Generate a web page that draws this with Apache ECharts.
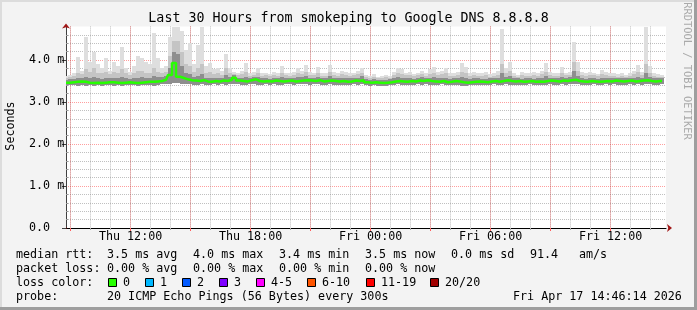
<!DOCTYPE html>
<html><head><meta charset="utf-8">
<script src="https://cdn.jsdelivr.net/npm/echarts@6/dist/echarts.min.js"></script>
<style>html,body{margin:0;padding:0;background:#f3f3f3}#c{width:697px;height:310px}</style>
</head><body><div id="c"></div>
<script>
// time axis: hours since Thu 00:00 (Thu 08:46:14 .. Fri 14:46:14)
const START_HOUR = 8.7706;
const END_HOUR = 38.7706;
const STEP_HOURS = 0.2; // one sample every 12 minutes

// median round-trip time (ms)
const medianRtt = [
 3.46,3.46,3.47,3.48,3.49,3.48,3.46,3.45,3.46,3.45,
 3.46,3.47,3.47,3.46,3.45,3.46,3.47,3.46,3.45,3.46,
 3.47,3.48,3.48,3.49,3.50,3.53,3.64,3.93,3.60,3.57,
 3.54,3.52,3.51,3.50,3.52,3.49,3.48,3.50,3.49,3.51,
 3.50,3.53,3.58,3.51,3.50,3.49,3.52,3.54,3.50,3.49,
 3.50,3.49,3.51,3.50,3.49,3.50,3.51,3.49,3.50,3.51,
 3.52,3.51,3.50,3.52,3.49,3.50,3.51,3.50,3.49,3.50,
 3.48,3.49,3.51,3.50,3.52,3.47,3.46,3.47,3.46,3.45,
 3.46,3.47,3.49,3.50,3.49,3.48,3.50,3.49,3.51,3.50,
 3.52,3.50,3.49,3.48,3.50,3.47,3.48,3.50,3.49,3.47,
 3.46,3.47,3.48,3.49,3.48,3.47,3.49,3.50,3.48,3.50,
 3.52,3.50,3.49,3.50,3.48,3.49,3.50,3.48,3.49,3.48,
 3.50,3.51,3.50,3.49,3.51,3.50,3.52,3.53,3.50,3.49,
 3.48,3.50,3.49,3.48,3.49,3.50,3.49,3.51,3.50,3.49,
 3.50,3.51,3.49,3.50,3.51,3.52,3.50,3.49,3.50,3.50
];
// smoke: lowest ping (ms)
const smokeMin = [
 3.40,3.41,3.40,3.39,3.41,3.38,3.40,3.39,3.41,3.39,
 3.40,3.41,3.39,3.40,3.38,3.40,3.41,3.40,3.39,3.40,
 3.41,3.40,3.39,3.41,3.42,3.43,3.44,3.46,3.45,3.44,
 3.43,3.42,3.41,3.40,3.42,3.41,3.40,3.42,3.41,3.42,
 3.41,3.43,3.44,3.42,3.41,3.40,3.42,3.43,3.41,3.40,
 3.42,3.41,3.42,3.40,3.41,3.42,3.43,3.41,3.42,3.43,
 3.42,3.41,3.42,3.43,3.40,3.41,3.42,3.41,3.40,3.41,
 3.40,3.41,3.42,3.41,3.42,3.40,3.39,3.40,3.39,3.38,
 3.39,3.40,3.41,3.42,3.41,3.40,3.41,3.40,3.42,3.41,
 3.42,3.41,3.40,3.41,3.42,3.40,3.40,3.41,3.40,3.39,
 3.39,3.40,3.41,3.40,3.41,3.40,3.41,3.42,3.40,3.41,
 3.42,3.41,3.40,3.41,3.40,3.41,3.42,3.40,3.41,3.40,
 3.41,3.42,3.41,3.40,3.42,3.41,3.43,3.44,3.42,3.41,
 3.40,3.41,3.42,3.40,3.41,3.42,3.40,3.42,3.41,3.40,
 3.41,3.42,3.41,3.42,3.41,3.43,3.42,3.41,3.41,3.42
];
// smoke: dense core upper edge (ms)
const smokeHi = [
 3.53,3.54,3.55,3.58,3.57,3.60,3.56,3.60,3.56,3.55,
 3.58,3.56,3.58,3.56,3.60,3.56,3.55,3.57,3.58,3.59,
 3.57,3.58,3.62,3.60,3.60,3.62,3.80,4.20,4.15,3.85,
 3.70,3.66,3.60,3.62,3.66,3.58,3.58,3.57,3.57,3.58,
 3.64,3.60,3.64,3.58,3.57,3.60,3.58,3.60,3.60,3.56,
 3.57,3.55,3.58,3.56,3.60,3.57,3.57,3.56,3.60,3.59,
 3.62,3.58,3.57,3.60,3.56,3.56,3.62,3.57,3.56,3.58,
 3.56,3.56,3.58,3.58,3.62,3.54,3.52,3.54,3.52,3.52,
 3.53,3.54,3.57,3.60,3.58,3.56,3.58,3.55,3.58,3.59,
 3.58,3.58,3.60,3.56,3.58,3.57,3.55,3.56,3.56,3.60,
 3.58,3.55,3.56,3.56,3.55,3.55,3.56,3.57,3.56,3.70,
 3.60,3.62,3.56,3.56,3.55,3.56,3.57,3.55,3.56,3.56,
 3.62,3.58,3.56,3.56,3.60,3.57,3.60,3.75,3.62,3.56,
 3.55,3.57,3.56,3.55,3.57,3.57,3.56,3.58,3.56,3.56,
 3.56,3.58,3.57,3.60,3.58,3.70,3.60,3.56,3.56,3.56
];
// smoke: upper middle band edge (ms)
const smokeP90 = [
 3.58,3.60,3.62,3.70,3.66,3.78,3.72,3.80,3.70,3.68,
 3.72,3.66,3.72,3.68,3.78,3.68,3.64,3.70,3.75,3.74,
 3.70,3.68,3.82,3.72,3.68,3.72,4.10,4.45,4.45,4.20,
 3.90,3.85,3.72,3.80,3.90,3.70,3.72,3.66,3.68,3.65,
 3.80,3.68,3.66,3.64,3.66,3.72,3.63,3.65,3.70,3.62,
 3.64,3.61,3.65,3.62,3.70,3.64,3.62,3.65,3.70,3.66,
 3.72,3.65,3.64,3.70,3.63,3.62,3.72,3.65,3.62,3.66,
 3.65,3.62,3.64,3.66,3.70,3.60,3.58,3.60,3.57,3.58,
 3.60,3.58,3.64,3.68,3.67,3.64,3.65,3.61,3.64,3.66,
 3.62,3.67,3.70,3.65,3.66,3.68,3.63,3.62,3.64,3.72,
 3.70,3.63,3.64,3.62,3.63,3.64,3.60,3.63,3.65,3.90,
 3.68,3.75,3.62,3.60,3.64,3.63,3.62,3.65,3.63,3.66,
 3.72,3.65,3.62,3.63,3.70,3.64,3.65,3.95,3.75,3.65,
 3.62,3.65,3.64,3.61,3.67,3.65,3.63,3.62,3.60,3.63,
 3.60,3.62,3.66,3.72,3.65,3.90,3.70,3.63,3.60,3.59
];
// smoke: highest ping (ms)
const smokeMax = [
 3.62,3.65,3.68,4.06,3.75,4.55,3.95,4.20,3.90,3.80,
 4.05,3.75,3.96,3.85,4.32,3.80,3.72,3.85,4.10,4.05,
 3.95,3.90,4.65,4.05,3.80,3.85,4.55,4.78,4.78,4.70,
 4.25,4.40,3.90,4.35,4.78,3.85,3.92,3.78,3.80,3.75,
 4.15,3.80,3.72,3.70,3.75,3.93,3.70,3.72,3.82,3.68,
 3.70,3.66,3.72,3.68,3.85,3.70,3.68,3.72,3.82,3.75,
 3.88,3.72,3.70,3.84,3.70,3.68,3.88,3.72,3.68,3.74,
 3.72,3.68,3.70,3.75,3.82,3.64,3.62,3.66,3.60,3.63,
 3.65,3.62,3.72,3.80,3.78,3.70,3.72,3.66,3.70,3.75,
 3.68,3.78,3.84,3.72,3.75,3.80,3.70,3.68,3.72,3.92,
 3.83,3.70,3.72,3.68,3.70,3.72,3.66,3.70,3.75,4.75,
 3.80,3.95,3.68,3.65,3.72,3.70,3.68,3.72,3.70,3.75,
 3.93,3.72,3.68,3.70,3.83,3.70,3.72,4.43,3.95,3.72,
 3.68,3.72,3.70,3.66,3.76,3.72,3.70,3.68,3.66,3.70,
 3.65,3.68,3.75,3.87,3.72,4.78,3.85,3.70,3.66,3.64
];

const xLabelHours = [12, 18, 24, 30, 36];
const xLabels = ['Thu 12:00', 'Thu 18:00', 'Fri 00:00', 'Fri 06:00', 'Fri 12:00'];
const xMajorHours = [9, 12, 15, 18, 21, 24, 27, 30, 33, 36];
const xMinorHours = [9,10,11,12,13,14,15,16,17,18,19,20,21,22,23,24,25,26,27,28,29,30,31,32,33,34,35,36,37,38];
const yMajor = [0, 1, 2, 3, 4];
const yLabels = ['0.0', '1.0 m', '2.0 m', '3.0 m', '4.0 m'];
const yMinor = [0.2,0.4,0.6,0.8,1.2,1.4,1.6,1.8,2.2,2.4,2.6,2.8,3.2,3.4,3.6,3.8,4.2,4.4,4.6];

const titleText = 'Last 30 Hours from smokeping to Google DNS 8.8.8.8';
const rttStats = ['median rtt:', '3.5 ms avg', '4.0 ms max', '3.4 ms min', '3.5 ms now', '0.0 ms sd', '91.4', 'am/s'];
const lossStats = ['packet loss:', '0.00 % avg', '0.00 % max', '0.00 % min', '0.00 % now'];
const lossLabels = ['0', '1', '2', '3', '4-5', '6-10', '11-19', '20/20'];
const lossColors = ['#26ff00', '#00b8ff', '#0059ff', '#7e00ff', '#ff00ff', '#ff5500', '#ff0000', '#a10000'];
const probeText = ['probe:', '20 ICMP Echo Pings (56 Bytes) every 300s'];
const stampText = 'Fri Apr 17 14:46:14 2026';

// ---- layout ----
const FONT = '"DejaVu Sans Mono", monospace';
const rttX = [16, 107, 193, 279, 365, 451, 530, 579];
const lossX = [16, 107, 193, 279, 365];
const boxX = [108.5, 145.5, 182.5, 219.5, 256.5, 307.5, 366.5, 430.5];
const rowY = [254.5, 268.5, 282.5, 296.5];
const smokeColors = ['#8e8e8e', '#c4c4c4', '#dedede'];

function txt(x, y, t, o) {
  o = o || {};
  return {type: 'text', x: x, y: y, rotation: o.rot || 0, silent: true, z: 100,
    style: {text: t, font: (o.size || 11.7) + 'px ' + FONT, fill: o.fill || '#000',
      textAlign: o.align || 'left', textVerticalAlign: 'middle'}};
}
const graphics = [];
graphics.push({type: 'rect', silent: true, shape: {x: 0, y: 0, width: 697, height: 2}, style: {fill: '#dcdcdc'}});
graphics.push({type: 'rect', silent: true, shape: {x: 0, y: 0, width: 2, height: 310}, style: {fill: '#dcdcdc'}});
graphics.push({type: 'rect', silent: true, shape: {x: 694, y: 0, width: 3, height: 310}, style: {fill: '#9e9e9e'}});
graphics.push({type: 'rect', silent: true, shape: {x: 0, y: 307, width: 697, height: 3}, style: {fill: '#9e9e9e'}});
graphics.push(txt(348.5, 19, titleText, {size: 13.3, align: 'center'}));
graphics.push(txt(11, 126, 'Seconds', {rot: Math.PI / 2, align: 'center'}));
graphics.push(txt(687, 71, 'RRDTOOL / TOBI OETIKER', {rot: -Math.PI / 2, align: 'center', size: 10.4, fill: '#aaaaaa'}));
rttStats.forEach((t, i) => graphics.push(txt(rttX[i], rowY[0], t)));
lossStats.forEach((t, i) => graphics.push(txt(lossX[i], rowY[1], t)));
graphics.push(txt(16, rowY[2], 'loss color:'));
lossLabels.forEach((t, i) => {
  graphics.push({type: 'rect', silent: true, z: 100, shape: {x: boxX[i], y: rowY[2] - 4, width: 8, height: 8},
    style: {fill: lossColors[i], stroke: '#000', lineWidth: 1}});
  graphics.push(txt(boxX[i] + 14.5, rowY[2], t));
});
graphics.push(txt(16, rowY[3], probeText[0]));
graphics.push(txt(107, rowY[3], probeText[1]));
graphics.push(txt(513, rowY[3], stampText));

// ---- series data ----
const xs = medianRtt.map((_, i) => START_HOUR + i * STEP_HOURS);
const smokeData = xs.map((x, i) => [x, smokeMin[i], smokeHi[i], smokeP90[i], smokeMax[i]]);
const medianData = xs.map((x, i) => [x, medianRtt[i]]);

function renderSmoke(params, api) {
  const x = api.value(0);
  const l = Math.round(api.coord([x - STEP_HOURS / 2, 0])[0]);
  const r = Math.round(api.coord([x + STEP_HOURS / 2, 0])[0]);
  const ys = [1, 2, 3, 4].map(k => Math.round(api.coord([x, api.value(k)])[1]));
  const children = [];
  for (let k = 0; k < 3; k++) {
    const h = ys[k] - ys[k + 1];
    if (h > 0) children.push({type: 'rect', shape: {x: l, y: ys[k + 1], width: r - l, height: h},
      style: {fill: smokeColors[k]}});
  }
  return {type: 'group', children: children};
}

const gridGray = 'rgba(140,140,140,0.55)';
const gridRed = 'rgba(255,0,0,0.38)';
const labelStyle = {fontFamily: FONT, fontSize: 11.7, color: '#000'};

const chart = echarts.init(document.getElementById('c'), null, {renderer: 'canvas', devicePixelRatio: 1});
chart.setOption({
  animation: false,
  backgroundColor: '#f3f3f3',
  grid: {left: 66, right: 31, top: 26.4, bottom: 82, show: true, backgroundColor: '#ffffff', borderWidth: 0},
  xAxis: [
    {type: 'value', min: START_HOUR, max: END_HOUR, position: 'bottom',
      axisLine: {show: true, onZero: false, lineStyle: {color: '#000', width: 1}},
      axisTick: {show: true, customValues: xMinorHours, length: 2, lineStyle: {color: '#aaaaaa'}},
      axisLabel: Object.assign({show: true, customValues: xLabelHours, margin: 3,
        formatter: v => xLabels[xLabelHours.indexOf(Math.round(v))]}, labelStyle),
      splitLine: {show: true, lineStyle: {color: gridGray, width: 1, type: [1, 1]}}},
    {type: 'value', min: START_HOUR, max: END_HOUR, position: 'bottom',
      axisLine: {show: true, onZero: false, symbol: ['none', 'arrow'], symbolSize: [6, 5], symbolOffset: [0, 6],
        lineStyle: {color: '#a01515', width: 1, type: [0, 10000]}},
      axisTick: {show: true, customValues: xMajorHours, length: 3, lineStyle: {color: '#ff6060', type: 'solid'}},
      axisLabel: {show: false},
      splitLine: {show: true, lineStyle: {color: gridRed, width: 1, type: [1, 1]}}}
  ],
  yAxis: [
    {type: 'value', min: 0, max: 4.8, position: 'left',
      axisLine: {show: true, onZero: false, lineStyle: {color: '#404040', width: 1}},
      axisTick: {show: true, inside: true, customValues: yMinor, length: 2, lineStyle: {color: '#999999'}},
      axisLabel: {show: false},
      splitLine: {show: true, lineStyle: {color: gridGray, width: 1, type: [1, 1]}}},
    {type: 'value', min: 0, max: 4.8, position: 'left',
      axisLine: {show: true, onZero: false, symbol: ['none', 'arrow'], symbolSize: [6, 5], symbolOffset: [0, 3],
        lineStyle: {color: '#a01515', width: 1, type: [0, 10000]}},
      axisTick: {show: true, customValues: yMajor, length: 4, lineStyle: {color: '#404040', type: 'solid'}},
      axisLabel: Object.assign({customValues: yMajor, align: 'left', margin: 37,
        formatter: v => yLabels[yMajor.indexOf(Math.round(v))]}, labelStyle),
      splitLine: {show: true, lineStyle: {color: gridRed, width: 1, type: [1, 1]}}}
  ],
  series: [
    {type: 'custom', data: smokeData, encode: {x: 0, y: [1, 2, 3, 4]}, renderItem: renderSmoke,
      clip: true, silent: true, z: 2},
    {type: 'line', data: medianData, symbol: 'none', step: 'middle', silent: true, z: 5,
      lineStyle: {color: '#26ff00', width: 2.5}}
  ],
  graphic: graphics
});
</script>
</body></html>
